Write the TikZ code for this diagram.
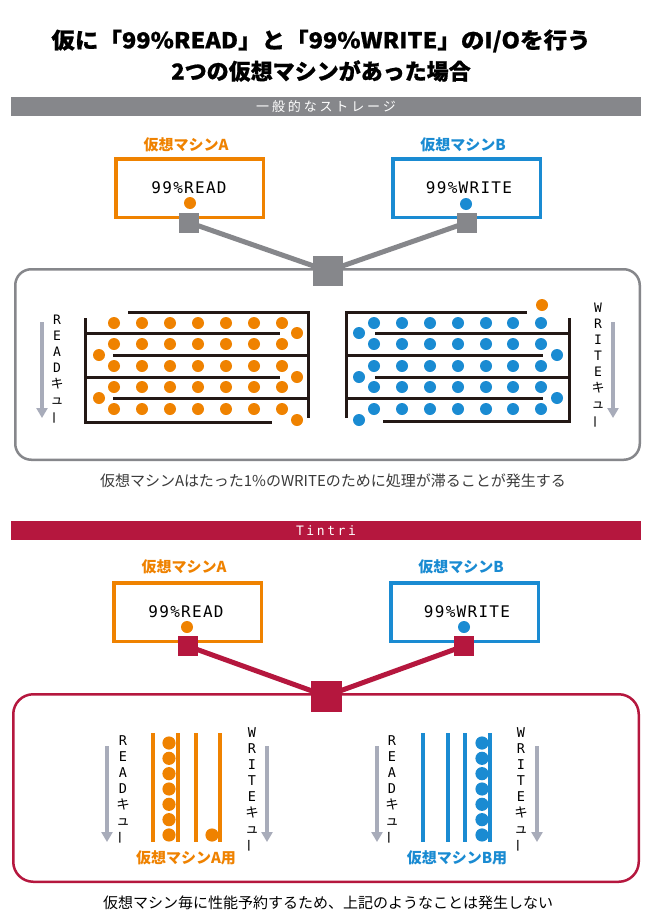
\documentclass[tikz,border=0pt]{standalone}
\usepackage{fontspec}
\usepackage{graphicx}
\usetikzlibrary{arrows.meta}
\setmainfont{Noto Sans CJK JP}
\newfontfamily\jp{Noto Sans CJK JP}
\newfontfamily\jpt[BoldFeatures={FakeBold=0.7}]{Noto Sans CJK JP}
\newfontfamily\mono[LetterSpace=8]{DejaVu Sans Mono}
\newfontfamily\vmono{DejaVu Sans Mono}
\newfontfamily\barjp[LetterSpace=22]{Noto Sans CJK JP}
\newfontfamily\barmono[LetterSpace=20]{DejaVu Sans Mono}
\definecolor{orangeC}{HTML}{EF8200}
\definecolor{blueC}{HTML}{1A8BD2}
\definecolor{grayC}{HTML}{86878B}
\definecolor{crimC}{HTML}{B5173E}
\definecolor{arrowC}{HTML}{A8ACBA}
\definecolor{lineK}{HTML}{231815}
\definecolor{noteC}{HTML}{3A3A3A}
\newcommand\vlabR{R\\E\\A\\D\\{\jp キ}\\{\jp ュ}\\{\jp\smash{\rotatebox[origin=c]{90}{ー}}}}
\newcommand\vlabW{W\\R\\I\\T\\E\\{\jp キ}\\{\jp ュ}\\{\jp\smash{\rotatebox[origin=c]{90}{ー}}}}
\tikzset{
  qline/.style={draw=lineK, line width=3pt},
  vmbox/.style={line width=3.5pt, minimum width=147.5pt, minimum height=58.5pt, inner sep=0pt},
  vmlabel/.style={font=\jp\bfseries\fontsize{15}{17}\selectfont},
  vmtext/.style={font=\mono\fontsize{16}{18}\selectfont, inner sep=0pt},
  sbar/.style={minimum width=630pt, minimum height=19pt, inner sep=0pt, text=white},
  sq/.style={minimum size=20pt, inner sep=0pt},
  hub/.style={minimum size=30pt, inner sep=0pt},
  qarrow/.style={draw=arrowC, line width=4pt, -{Triangle[width=11pt,length=10pt]}},
  vtext/.style={font=\vmono\fontsize{13}{16}\selectfont, align=center, inner sep=0pt, anchor=north},
  vtextL/.style={font=\vmono\fontsize{13.5}{16}\selectfont, align=center, inner sep=0pt, anchor=north},
}
\begin{document}
\begin{tikzpicture}[x=1pt,y=-1pt]
\useasboundingbox (0,0) rectangle (650,918);
\fill[white] (0,0) rectangle (650,918);

% Title
\node[font=\jpt\bfseries\fontsize{22}{26}\selectfont, inner sep=0pt] (t1) at (321,41) {\scalebox{1.07}[1]{仮に「99\%READ」と「99\%WRITE」のI/Oを行う}};
\node[font=\jpt\bfseries\fontsize{22}{26}\selectfont, inner sep=0pt] (t2) at (321,71) {2つの仮想マシンがあった場合};

% ===== Upper section =====
\node[sbar, fill=grayC, font=\barjp\fontsize{13}{15}\selectfont] (bar1) at (326,106.5) {一般的なストレージ};

\node[vmlabel, text=orangeC] (labA1) at (186,145) {仮想マシンA};
\node[vmlabel, text=blueC] (labB1) at (463,145) {仮想マシンB};

\draw[draw=grayC, line width=2.5pt, rounded corners=16pt] (15.25,269.25) rectangle (639.75,459.75);

\node[vmbox, draw=orangeC] (boxA1) at (189.5,188) {};
\node[vmbox, draw=blueC] (boxB1) at (466.5,188) {};
\node[vmtext] (txA1) at (189,188) {99\%READ};
\node[vmtext] (txB1) at (469,188) {99\%WRITE};
\fill[orangeC] (190,203) circle[radius=6pt];
\fill[blueC] (466,204) circle[radius=6pt];

\node[sq, fill=grayC] (sqA1) at (189,222.5) {};
\node[sq, fill=grayC] (sqB1) at (467,222.5) {};
\node[hub, fill=grayC] (hub1) at (328,271) {};
\draw[grayC, line width=5pt] (sqA1.center) -- (hub1.center) -- (sqB1.center);
\node[hub, fill=grayC] at (hub1.center) {};
\node[sq, fill=grayC] at (sqA1.center) {};
\node[sq, fill=grayC] at (sqB1.center) {};

% left (READ) serpentine queue
\draw[qline] (128,312) -- (308,312) -- (308,418);
\draw[qline] (85,318) -- (85,422) -- (272,422);
\draw[qline] (85,333) -- (280,333);
\draw[qline] (113,355) -- (308,355);
\draw[qline] (85,377) -- (280,377);
\draw[qline] (113,398) -- (308,398);
\foreach \y in {323,344,366,387,409}
  \foreach \x in {114,142,170,198,226,254,282}
    \fill[orangeC] (\x,\y) circle[radius=6pt];
\foreach \p in {(297,333),(99,355),(297,377),(99,398),(297,420)}
  \fill[orangeC] \p circle[radius=6pt];

% right (WRITE) serpentine queue
\draw[qline] (346,418) -- (346,312) -- (527,312);
\draw[qline] (383,421) -- (569,421) -- (569,318);
\draw[qline] (375,333) -- (569,333);
\draw[qline] (346,355) -- (543,355);
\draw[qline] (375,377) -- (569,377);
\draw[qline] (346,398) -- (543,398);
\foreach \y in {323,344,366,387,409}
  \foreach \x in {374,402,430,458,486,513,541}
    \fill[blueC] (\x,\y) circle[radius=6pt];
\foreach \p in {(359,333),(557,355),(359,377),(557,398),(359,420)}
  \fill[blueC] \p circle[radius=6pt];
\fill[orangeC] (542,305) circle[radius=6pt];

% queue arrows and labels (upper)
\coordinate (ra1s) at (42,322); \coordinate (ra1e) at (42,418);
\coordinate (wa1s) at (613,322); \coordinate (wa1e) at (613,418);
\draw[qarrow] (ra1s) -- (ra1e);
\draw[qarrow] (wa1s) -- (wa1e);
\node[vtext] (rl1) at (57,315) {\vlabR};
\node[vtext] (wl1) at (598,303) {\vlabW};

\node[font=\jp\fontsize{15}{17}\selectfont, text=noteC, inner sep=0pt] (note1) at (333,481) {仮想マシンAはたった1\%のWRITEのために処理が滞ることが発生する};

% ===== Lower section =====
\node[sbar, fill=crimC, font=\barmono\fontsize{13}{15}\selectfont] (bar2) at (326,530.5) {Tintri};

\node[vmlabel, text=orangeC] (labA2) at (184,567) {仮想マシンA};
\node[vmlabel, text=blueC] (labB2) at (461,567) {仮想マシンB};

\draw[draw=crimC, line width=2.5pt, rounded corners=20pt] (13.25,694.25) rectangle (638.75,881.75);

\node[vmbox, draw=orangeC] (boxA2) at (187.5,612) {};
\node[vmbox, draw=blueC] (boxB2) at (464.5,612) {};
\node[vmtext] (txA2) at (186,612) {99\%READ};
\node[vmtext] (txB2) at (467,612) {99\%WRITE};
\fill[orangeC] (187,627) circle[radius=6pt];
\fill[blueC] (464,627) circle[radius=6pt];

\node[sq, fill=crimC] (sqA2) at (187.5,646) {};
\node[sq, fill=crimC] (sqB2) at (464,646) {};
\node[hub, fill=crimC, minimum size=31pt] (hub2) at (326,696) {};
\draw[crimC, line width=5pt] (sqA2.center) -- (hub2.center) -- (sqB2.center);
\node[hub, fill=crimC, minimum size=31pt] at (hub2.center) {};
\node[sq, fill=crimC] at (sqA2.center) {};
\node[sq, fill=crimC] at (sqB2.center) {};

% VM A lanes
\foreach \x in {153,178,196,220}
  \draw[orangeC, line width=4pt] (\x,733) -- (\x,842);
\foreach \i in {0,...,6}
  \fill[orangeC] (169,743+15.33*\i) circle[radius=6.6pt];
\fill[orangeC] (212,835) circle[radius=6.6pt];

% VM B lanes
\foreach \x in {423,448,465,490}
  \draw[blueC, line width=4pt] (\x,733) -- (\x,842);
\foreach \i in {0,...,6}
  \fill[blueC] (482,743+15.33*\i) circle[radius=6.6pt];

% lower arrows and labels
\coordinate (ra2s) at (107,746); \coordinate (ra2e) at (107,842);
\coordinate (wa2s) at (267,746); \coordinate (wa2e) at (267,842);
\coordinate (ra3s) at (377,746); \coordinate (ra3e) at (377,842);
\coordinate (wa3s) at (537,746); \coordinate (wa3e) at (537,842);
\draw[qarrow] (ra2s) -- (ra2e);
\draw[qarrow] (wa2s) -- (wa2e);
\draw[qarrow] (ra3s) -- (ra3e);
\draw[qarrow] (wa3s) -- (wa3e);
\node[vtextL] (rl2) at (123,735) {\vlabR};
\node[vtextL] (wl2) at (252,727) {\vlabW};
\node[vtextL] (rl3) at (392,735) {\vlabR};
\node[vtextL] (wl3) at (521,727) {\vlabW};

\node[vmlabel, text=orangeC] (useA) at (186,858) {仮想マシンA用};
\node[vmlabel, text=blueC] (useB) at (457,858) {仮想マシンB用};

\node[font=\jp\fontsize{15}{17}\selectfont, inner sep=0pt] (note2) at (328,903) {仮想マシン毎に性能予約するため、上記のようなことは発生しない};
\end{tikzpicture}
\end{document}
